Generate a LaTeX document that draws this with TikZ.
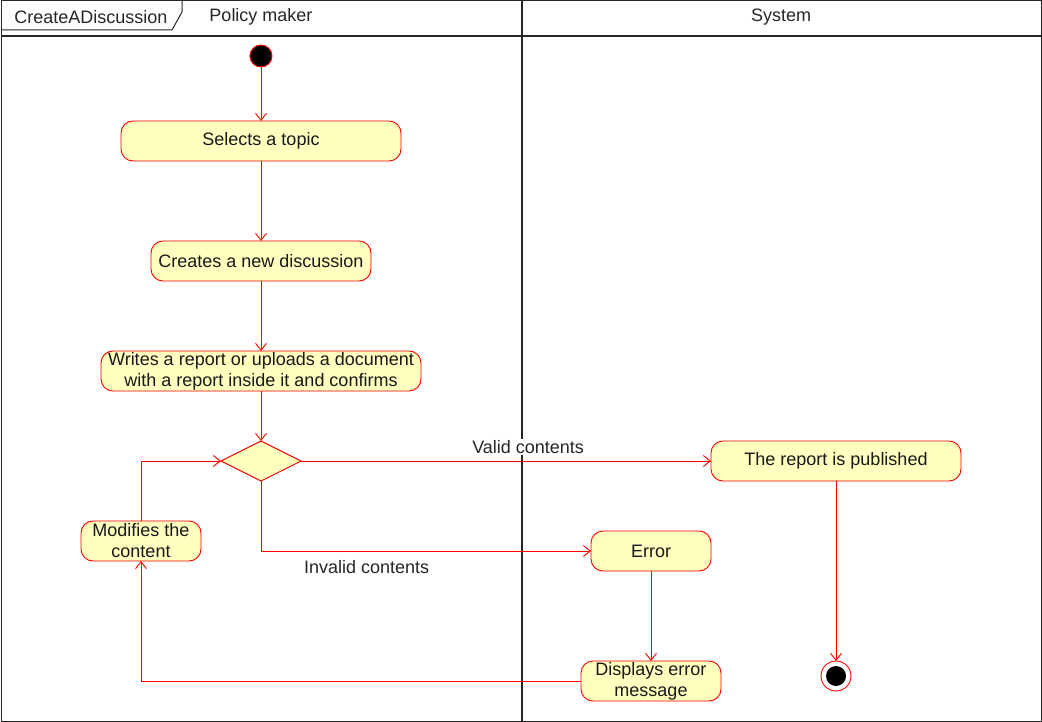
\documentclass[tikz,border=0pt]{standalone}
\usepackage{fontspec}
\setmainfont{Liberation Sans}
\usetikzlibrary{arrows.meta, positioning, shapes.geometric}

\definecolor{actfill}{HTML}{FFFFC0}
\definecolor{actline}{HTML}{FF0000}

\tikzset{
  activity/.style = {draw=actline, fill=actfill, rounded corners=12pt,
    line width=0.9pt, minimum height=40pt, inner sep=0.5pt, outer sep=0pt,
    align=center, font=\fontsize{18}{21}\selectfont, text=black!90},
  decision/.style = {diamond, draw=actline, fill=actfill, line width=0.9pt,
    minimum width=80pt, minimum height=40pt, inner sep=0pt, outer sep=0pt},
  initial/.style  = {circle, draw=actline, fill=black, line width=0.9pt,
    minimum size=22pt, inner sep=0pt, outer sep=0pt},
  final/.style    = {circle, draw=actline, fill=white, line width=0.9pt,
    minimum size=30pt, inner sep=0pt, outer sep=0pt,
    path picture={\fill[black] (path picture bounding box.center) circle (10pt);}},
  flow/.style     = {draw=actline, line width=0.9pt,
    -{Straight Barb[length=7pt,width=11pt,line width=0.9pt]}},
  lbl/.style      = {fill=white, inner sep=1pt, text=black!85,
    font=\fontsize{18}{21}\selectfont},
  lane/.style     = {draw=black!85, line width=1pt},
  title/.style    = {font=\fontsize{18}{21}\selectfont, text=black!85}
}

\begin{document}
\begin{tikzpicture}
  [x=1pt, y=-1pt]

  \useasboundingbox (0,0) rectangle (1042,722);

  % lanes
  \draw[lane] (1,1) rectangle (1041,721);
  \draw[lane, line width=2pt] (1,36) -- (1041,36);
  \draw[lane, line width=2pt] (521.5,1) -- (521.5,721);
  \draw[lane] (1,30) -- (172,30) -- (182,12) -- (182,1);
  \node[title] (frame)  at (91,17)  {CreateADiscussion};
  \node[title] (policy) at (261,17) {Policy maker};
  \node[title] (system) at (781,17) {System};

  \node[initial]                   (start)     at (261,56)            {};
  \node[activity, minimum width=280pt] (select)    [below=54pt of start]  {Selects a topic};
  \node[activity, minimum width=220pt] (creates)   [below=80pt of select] {Creates a new discussion};
  \node[activity, minimum width=320pt] (writes)    [below=70pt of creates]
    {Writes a report or uploads a document\\with a report inside it and confirms};
  \node[decision]                  (check)     [below=50pt of writes] {};
  \node[activity, minimum width=250pt] (published) [right=410pt of check] {The report is published};
  \node[activity, minimum width=120pt] (error)     at (651,551)           {Error};
  \node[activity, minimum width=140pt] (shown)     [below=90pt of error]  {Displays error\\message};
  \node[activity, minimum width=120pt] (modify)    at (141,541)           {Modifies the\\content};
  \node[final]                     (end)       [below=180pt of published] {};

  \draw[flow] (start)   -- (select);
  \draw[flow] (select)  -- (creates);
  \draw[flow] (creates) -- (writes);
  \draw[flow] (writes)  -- (check);
  \draw[flow] (check)   -- node[lbl, pos=0.554, yshift=14pt] {Valid contents} (published);
  \draw[flow] (check)   |- node[lbl, pos=0.66, yshift=-16pt] {Invalid contents} (error);
  \draw[flow] (error)   -- (shown);
  \draw[flow] (shown)   -| (modify);
  \draw[flow] (modify)  |- (check);
  \draw[flow] (published) -- (end);
\end{tikzpicture}
\end{document}
